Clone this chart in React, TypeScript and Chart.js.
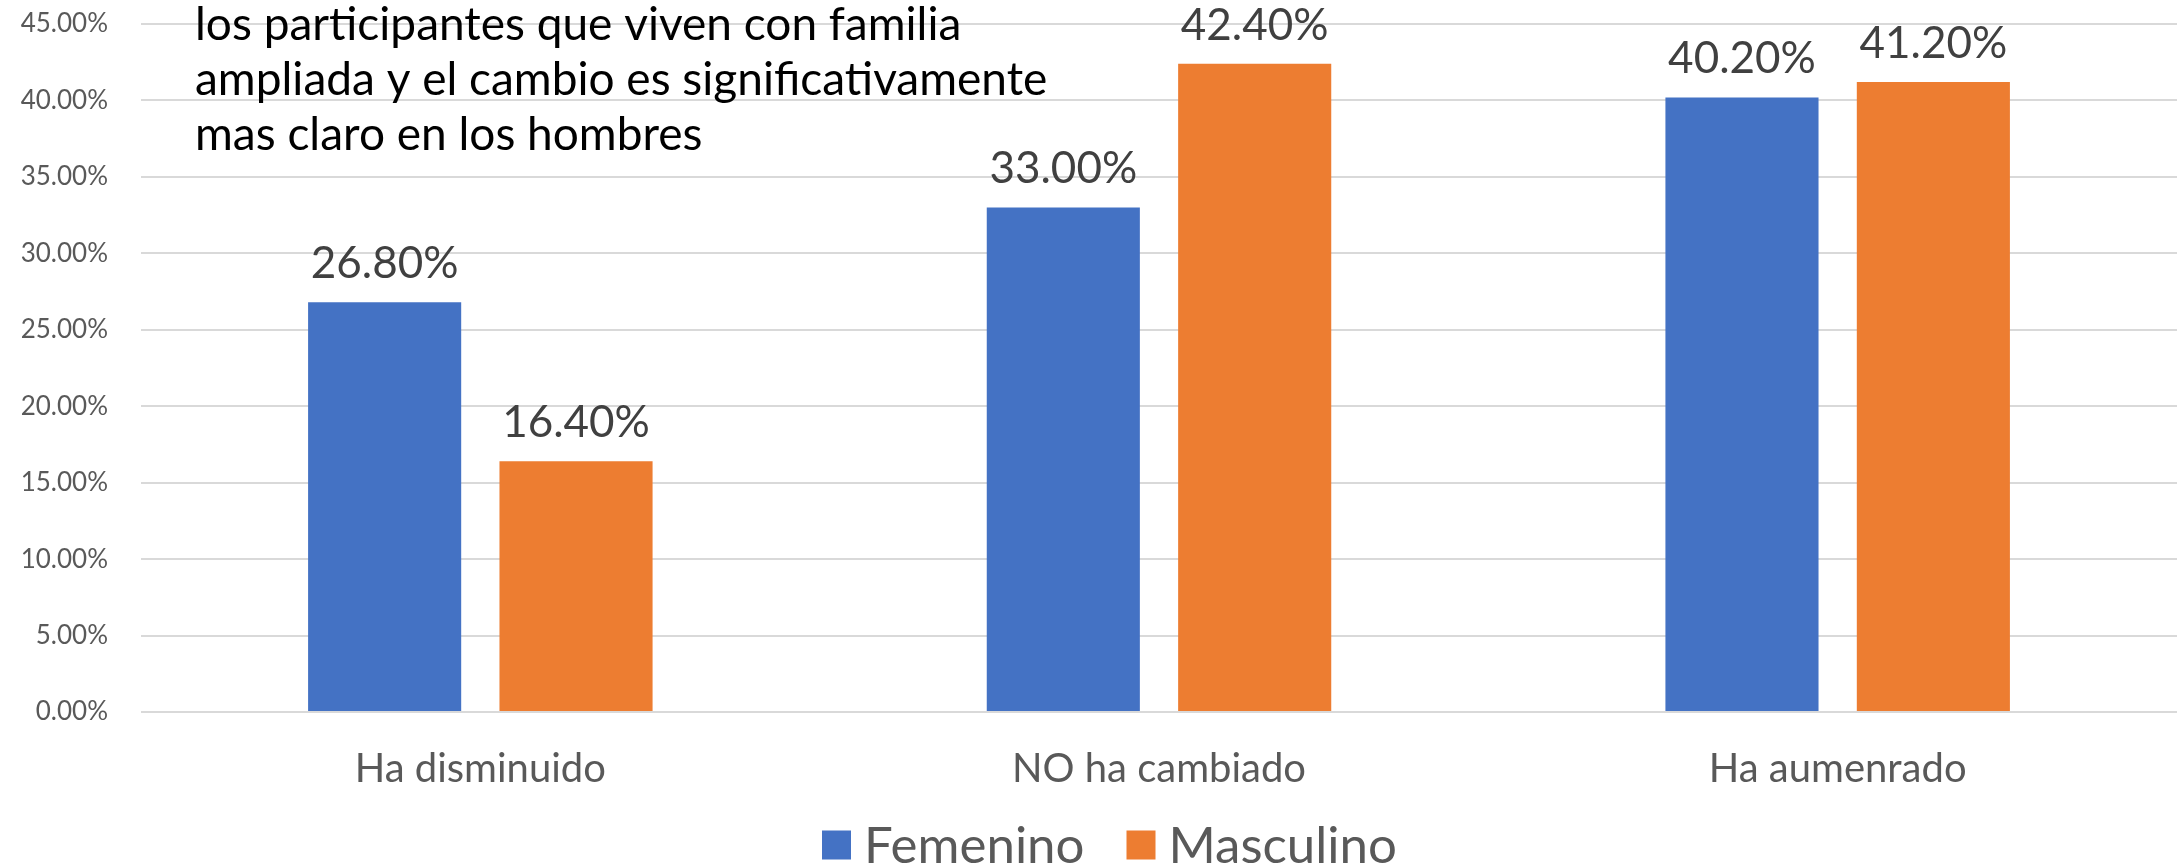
import React, { useEffect, useRef } from "react";
import { Chart, registerables } from "chart.js";

Chart.register(...registerables);

const categories = ["Ha disminuido", "NO ha cambiado", "Ha aumenrado"];
const femenino = [26.8, 33.0, 40.2];
const masculino = [16.4, 42.4, 41.2];
const seriesNames = ["Femenino", "Masculino"];
const seriesColors = ["#4472C4", "#ED7D31"];
const titleLines = [
  "los participantes que viven con familia",
  "ampliada y el cambio es significativamente",
  "mas claro en los hombres",
];

const FONT = "Lato, 'Open Sans', sans-serif";

const valueLabels = {
  id: "valueLabels",
  afterDatasetsDraw(chart: any) {
    const ctx = chart.ctx;
    ctx.save();
    ctx.font = `44px ${FONT}`;
    ctx.fillStyle = "#404040";
    ctx.textAlign = "center";
    ctx.textBaseline = "alphabetic";
    chart.data.datasets.forEach((ds: any, i: number) => {
      const meta = chart.getDatasetMeta(i);
      meta.data.forEach((el: any, j: number) => {
        ctx.fillText(`${Number(ds.data[j]).toFixed(2)}%`, el.x, el.y - 24);
      });
    });
    ctx.restore();
  },
};

const overlayTitle = {
  id: "overlayTitle",
  afterDraw(chart: any) {
    const ctx = chart.ctx;
    ctx.save();
    ctx.font = `46px ${FONT}`;
    ctx.fillStyle = "#000000";
    ctx.textAlign = "left";
    ctx.textBaseline = "middle";
    titleLines.forEach((line, i) => {
      ctx.fillText(line, 195, 25 + i * 55);
    });
    ctx.restore();
  },
};

const bottomLegend = {
  id: "bottomLegend",
  afterDraw(chart: any) {
    const ctx = chart.ctx;
    ctx.save();
    ctx.font = `51px ${FONT}`;
    ctx.textBaseline = "middle";
    ctx.textAlign = "left";
    const box = 29;
    const gap = 13;
    const itemGap = 42;
    const cy = 845;
    let x = 822;
    chart.data.datasets.forEach((ds: any) => {
      ctx.fillStyle = ds.backgroundColor;
      ctx.fillRect(x, cy - box / 2, box, box);
      x += box + gap;
      ctx.fillStyle = "#595959";
      ctx.fillText(ds.label, x, cy + 2);
      x += ctx.measureText(ds.label).width + itemGap;
    });
    ctx.restore();
  },
};

export default function App() {
  const ref = useRef<HTMLCanvasElement>(null);
  useEffect(() => {
    document.body.style.margin = "0";
    const chart = new Chart(ref.current as HTMLCanvasElement, {
      type: "bar",
      data: {
        labels: categories,
        datasets: [
          {
            label: seriesNames[0],
            data: femenino,
            backgroundColor: seriesColors[0],
            categoryPercentage: 0.564,
            barPercentage: 0.8,
          },
          {
            label: seriesNames[1],
            data: masculino,
            backgroundColor: seriesColors[1],
            categoryPercentage: 0.564,
            barPercentage: 0.8,
          },
        ],
      },
      options: {
        animation: false,
        responsive: true,
        maintainAspectRatio: false,
        layout: { padding: { top: 24, right: 1, left: 0, bottom: 0 } },
        plugins: {
          tooltip: { enabled: false },
          legend: { display: false },
        },
        scales: {
          x: {
            afterFit: (s: any) => {
              s.height = 156;
            },
            grid: { display: false },
            border: { display: false },
            ticks: {
              color: "#595959",
              font: { size: 40, family: FONT },
              padding: 25,
            },
          },
          y: {
            min: 0,
            max: 45,
            afterFit: (s: any) => {
              s.width = 141;
              s.paddingTop = 0;
              s.paddingBottom = 0;
            },
            grid: { color: "#D9D9D9", lineWidth: 2, drawTicks: false },
            border: { display: false },
            ticks: {
              stepSize: 5,
              padding: 33,
              color: "#595959",
              font: { size: 26, family: FONT },
              callback: (v: any) => `${Number(v).toFixed(2)}%`,
            },
          },
        },
      },
      plugins: [valueLabels, overlayTitle, bottomLegend],
    });
    return () => chart.destroy();
  }, []);
  return (
    <div style={{ width: "2178px", height: "868px", position: "relative" }}>
      <canvas ref={ref} />
    </div>
  );
}
